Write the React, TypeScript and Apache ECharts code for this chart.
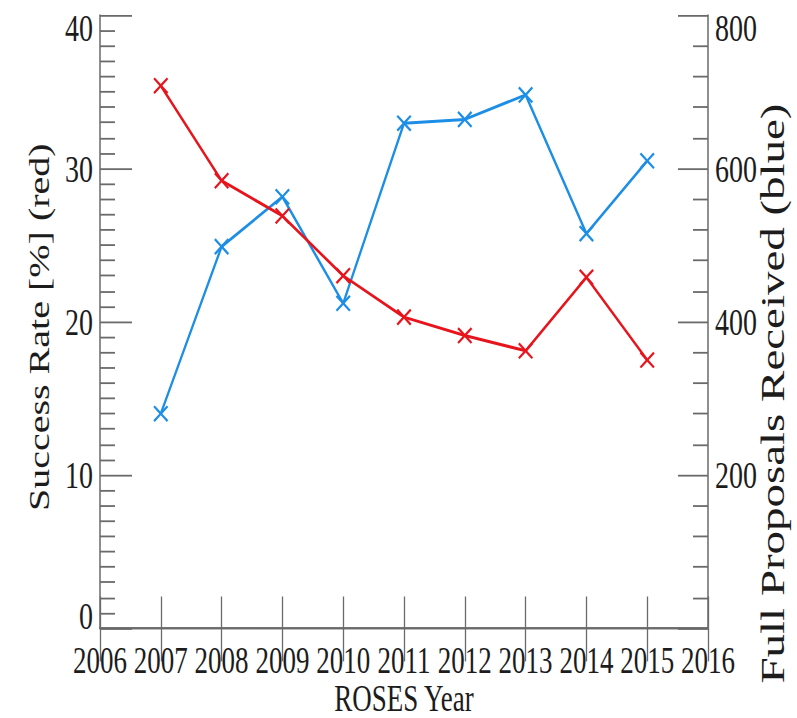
import React, { useEffect, useRef } from 'react';
import * as echarts from 'echarts';

// ---- data ----
const years = [2007, 2008, 2009, 2010, 2011, 2012, 2013, 2014, 2015];
const successRate = [35.4, 29.2, 26.9, 23.0, 20.3, 19.1, 18.1, 22.9, 17.5];
const proposals = [280, 498, 563, 424, 659, 664, 696, 515, 610];
const xRange = [2006, 2016];
const leftRange = [0, 40];
const rightRange = [0, 800];

const W = 797;
const H = 520;
const SY = 718 / H;

const FONT = 'Liberation Serif';
const TEXT = '#1c1c1c';
const AXIS = '#6a6a6a';
const RED = '#e8141c';
const BLUE = '#1c8ee6';
const XSYM = 'path://M0,1L1,0L5,4L9,0L10,1L6,5L10,9L9,10L5,6L1,10L0,9L4,5Z';

export default function App() {
  const ref = useRef<HTMLDivElement>(null);
  useEffect(() => {
    const chart = echarts.init(ref.current!, null, { renderer: 'svg' });
    const axisLine = { show: true, lineStyle: { color: AXIS, width: 1.5 } };
    const option: any = {
      animation: false,
      backgroundColor: '#ffffff',
      grid: { left: 100, right: 89, top: 11, bottom: 65, containLabel: false, outerBoundsMode: 'none' },
      xAxis: [
        {
          type: 'value',
          position: 'bottom',
          min: xRange[0],
          max: xRange[1],
          interval: 1,
          axisLine,
          axisTick: { show: true, inside: true, length: 23, lineStyle: { color: AXIS, width: 1.3 } },
          splitLine: { show: false },
          axisLabel: {
            show: true,
            showMinLabel: true,
            showMaxLabel: true,
            margin: 10,
            fontSize: 27,
            fontFamily: FONT,
            color: TEXT,
            formatter: (v: number) => String(v),
          },
          name: 'ROSES Year',
          nameLocation: 'middle',
          nameGap: 37,
          nameMoveOverlap: false,
          nameTextStyle: { fontSize: 27, fontFamily: FONT, color: TEXT },
        },
        {
          type: 'value',
          position: 'top',
          min: xRange[0],
          max: xRange[1],
          interval: 1,
          axisLine,
          axisTick: { show: true, inside: true, length: 24, lineStyle: { color: AXIS, width: 1.3 } },
          splitLine: { show: false },
          axisLabel: { show: false },
        },
      ],
      yAxis: [
        {
          type: 'value',
          position: 'left',
          min: leftRange[0],
          max: leftRange[1],
          interval: 10,
          axisLine,
          axisTick: { show: true, inside: true, length: 32, lineStyle: { color: AXIS, width: 1.3 } },
          minorTick: { show: true, splitNumber: 10, length: 15, lineStyle: { color: AXIS, width: 1.3 } },
          splitLine: { show: false },
          minorSplitLine: { show: false },
          axisLabel: {
            margin: 7,
            fontSize: 28,
            lineHeight: 18,
            fontFamily: FONT,
            color: TEXT,
            verticalAlignMinLabel: 'bottom',
            verticalAlignMaxLabel: 'top',
          },
          name: 'Success Rate [%] (red)',
          nameLocation: 'middle',
          nameRotate: 90,
          nameGap: 40,
          nameTextStyle: { fontSize: 29, fontFamily: FONT, color: TEXT, padding: [0, 8, 0, 0] },
        },
        {
          type: 'value',
          position: 'right',
          min: rightRange[0],
          max: rightRange[1],
          interval: 200,
          axisLine,
          axisTick: { show: true, inside: true, length: 30, lineStyle: { color: AXIS, width: 1.3 } },
          minorTick: { show: true, splitNumber: 5, length: 15, lineStyle: { color: AXIS, width: 1.3 } },
          splitLine: { show: false },
          minorSplitLine: { show: false },
          axisLabel: {
            margin: 7,
            fontSize: 28,
            lineHeight: 18,
            fontFamily: FONT,
            color: TEXT,
            verticalAlignMaxLabel: 'top',
            formatter: (v: number) => (v === 0 ? '' : String(v)),
          },
          name: 'Full Proposals Received (blue)',
          nameLocation: 'middle',
          nameRotate: 90,
          nameGap: 47,
          nameMoveOverlap: false,
          nameTextStyle: { fontSize: 34, fontFamily: FONT, color: TEXT, padding: [0, 104, 0, 0] },
        },
      ],
      series: [
        {
          name: 'Success Rate',
          type: 'line',
          xAxisIndex: 0,
          yAxisIndex: 0,
          data: years.map((y, i) => [y, successRate[i]]),
          symbol: XSYM,
          symbolSize: [15, 12],
          lineStyle: { color: RED, width: 2.2 },
          itemStyle: { color: RED },
          z: 3,
        },
        {
          name: 'Full Proposals',
          type: 'line',
          xAxisIndex: 0,
          yAxisIndex: 1,
          data: years.map((y, i) => [y, proposals[i]]),
          symbol: XSYM,
          symbolSize: [15, 12],
          lineStyle: { color: BLUE, width: 2.2 },
          itemStyle: { color: BLUE },
          z: 2,
        },
      ],
    };
    chart.setOption(option);
    return () => chart.dispose();
  }, []);
  return (
    <div
      style={{
        position: 'fixed',
        left: 0,
        top: 0,
        width: W,
        height: 718,
        overflow: 'hidden',
        background: '#ffffff',
      }}
    >
      <div
        ref={ref}
        style={{ width: W, height: H, transform: `scaleY(${SY})`, transformOrigin: '0 0' }}
      />
    </div>
  );
}
